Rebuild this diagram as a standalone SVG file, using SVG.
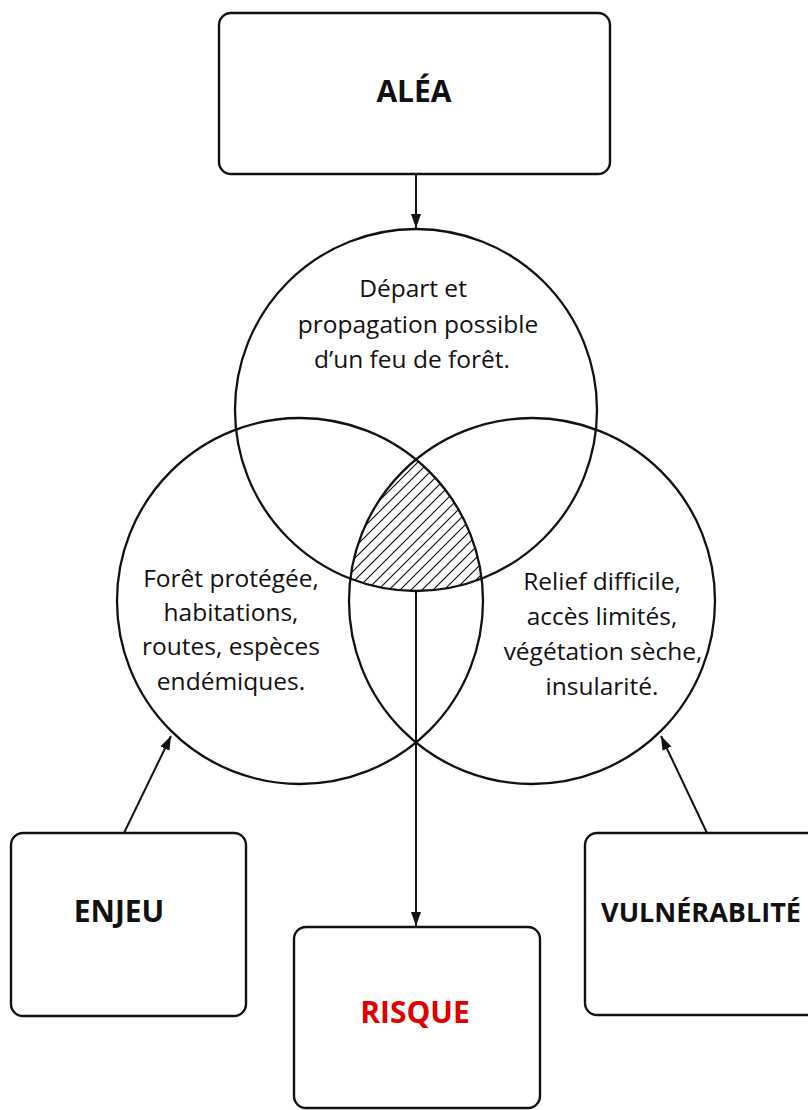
<svg xmlns="http://www.w3.org/2000/svg" width="808" height="1110" viewBox="0 0 808 1110">
<style>
.box{fill:#fff;stroke:#111;stroke-width:2.4}
.circ{fill:none;stroke:#111;stroke-width:2.3}
.conn{fill:none;stroke:#111;stroke-width:2}
.lbl{font-family:"Open Sans","Liberation Sans",sans-serif;font-weight:bold;fill:#111;text-anchor:middle}
.txt{font-family:"Open Sans","Liberation Sans",sans-serif;font-size:24.5px;fill:#111;text-anchor:middle}
</style>
<defs>
<marker id="arr" markerUnits="userSpaceOnUse" markerWidth="14" markerHeight="10" refX="14" refY="5" orient="auto">
<path d="M0,0 L14,5 L0,10 z" fill="#111"/>
</marker>
<pattern id="hatch" patternUnits="userSpaceOnUse" width="11" height="11">
<path d="M-1,1 L1,-1 M0,11 L11,0 M10,12 L12,10" stroke="#111" stroke-width="1.2"/>
</pattern>
</defs>
<rect width="808" height="1110" fill="#fff"/>
<g id="venn">
<path id="intersection" d="M416,459.5 A183,183 0 0 1 481.6,578.7 A181,181 0 0 1 350.4,578.7 A183,183 0 0 1 416,459.5 Z" fill="url(#hatch)"/>
<circle id="circle-alea" class="circ" cx="416" cy="410" r="181"/>
<circle id="circle-enjeu" class="circ" cx="300" cy="601" r="183"/>
<circle id="circle-vuln" class="circ" cx="532" cy="601" r="183"/>
<text class="txt"><tspan x="413" y="297">Départ et</tspan><tspan x="418" y="333">propagation possible</tspan><tspan x="412" y="368">d’un feu de forêt.</tspan></text>
<text class="txt"><tspan x="231" y="587">Forêt protégée,</tspan><tspan x="231" y="621">habitations,</tspan><tspan x="231" y="655">routes, espèces</tspan><tspan x="231" y="690">endémiques.</tspan></text>
<text class="txt"><tspan x="602" y="590">Relief difficile,</tspan><tspan x="602" y="625">accès limités,</tspan><tspan x="603" y="660">végétation sèche,</tspan><tspan x="602" y="695">insularité.</tspan></text>
</g>
<g id="connectors">
<line class="conn" x1="416" y1="174" x2="416" y2="228" marker-end="url(#arr)"/>
<line class="conn" x1="416" y1="591" x2="416" y2="926" marker-end="url(#arr)"/>
<line class="conn" x1="124" y1="833" x2="171" y2="736" marker-end="url(#arr)"/>
<line class="conn" x1="707" y1="833" x2="661" y2="736" marker-end="url(#arr)"/>
</g>
<g id="node-alea">
<rect class="box" x="219" y="13" width="391" height="161" rx="12"/>
<text class="lbl" x="414" y="102" font-size="30">ALÉA</text>
</g>
<g id="node-enjeu">
<rect class="box" x="11" y="833" width="235" height="183" rx="12"/>
<text class="lbl" x="119" y="922" font-size="30">ENJEU</text>
</g>
<g id="node-vulnerabilite">
<rect class="box" x="585" y="833" width="240" height="182" rx="12"/>
<text class="lbl" x="701" y="922" font-size="27">VULNÉRABLITÉ</text>
</g>
<g id="node-risque">
<rect class="box" x="294" y="927" width="246" height="181" rx="12"/>
<text class="lbl" x="415" y="1023" font-size="30" style="fill:#e00000">RISQUE</text>
</g>
</svg>
